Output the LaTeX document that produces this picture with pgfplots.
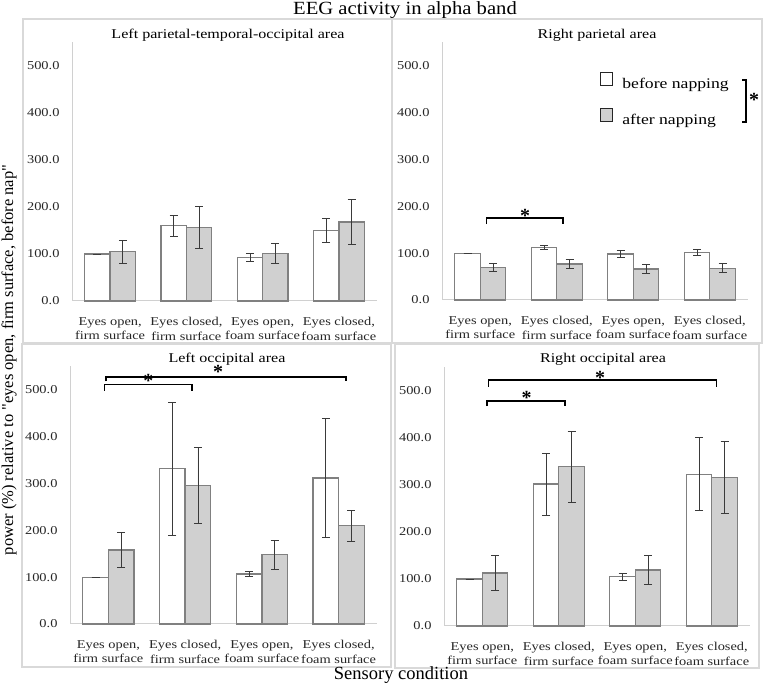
\documentclass[border=0pt]{standalone}
\usepackage{fontspec}
\setmainfont{Liberation Serif}
\newfontfamily\pf[FakeStretch=1.2]{Liberation Serif}
\newfontfamily\tf[FakeStretch=1.11]{Liberation Serif}
\newfontfamily\yf{Liberation Serif}
\usepackage{pgfplots}
\usepackage{pgfplotstable}
\pgfplotsset{compat=1.18}
\definecolor{edgec}{HTML}{808080}
\definecolor{afterc}{HTML}{D0D0D0}
\definecolor{errc}{HTML}{3A3A3A}
\definecolor{axc}{HTML}{D0D0D0}
\definecolor{boxc}{HTML}{D9D9D9}

% Left parietal-temporal-occipital area
\pgfplotstableread{
x b be a ae
0 100 0 105 24
1 160 23 157 45
2 93 8 101 22
3 150 26 168 48
}\lpto
% Right parietal area
\pgfplotstableread{
x b be a ae
0 100 0 70 9
1 112 5 77 10
2 98 7 66 9
3 102 6 68 10
}\rpar
% Left occipital area
\pgfplotstableread{
x b be a ae
0 100 0 158 37
1 332 142 296 81
2 107 5 148 31
3 312 127 210 33
}\locc
% Right occipital area
\pgfplotstableread{
x b be a ae
0 100 0 113 38
1 302 66 339 75
2 105 7 119 31
3 323 78 316 76
}\rocc

\tikzset{
  sig/.style={draw=black, line width=1.5pt},
  star/.style={font=\fontsize{20}{20}\selectfont\bfseries, inner sep=0pt, anchor=base, yshift=-9.5pt},
}
\pgfplotsset{
  panel/.style={
    scale only axis, anchor=south west,
    xmin=-0.5, xmax=3.5, ymin=0, ymax=550,
    axis x line=bottom, axis y line=left,
    axis line style={draw=axc, line width=1pt, -},
    xtick={0,1,2,3}, ytick={0,100,...,500},
    xticklabels={{Eyes open,\\firm surface},{Eyes closed,\\firm surface},{Eyes open,\\foam surface},{Eyes closed,\\foam surface}},
    major tick length=0pt,
    tick label style={font=\pf\fontsize{12}{14.5}\selectfont, text=black!85},
    xticklabel style={align=center, yshift=-13pt},
    yticklabel style={xshift=-9pt},
    yticklabel={\pgfmathprintnumber[fixed,fixed zerofill,precision=1,assume math mode=true]{\tick}},
    clip=false,
  },
  barbase/.style={ybar, bar width=0.3333, bar shift=0pt, draw=edgec, line width=1.3pt,
    error bars/y dir=both, error bars/y explicit,
    error bars/error bar style={draw=errc, line width=0.8pt},
    error bars/error mark options={rotate=90, draw=errc, line width=0.8pt, mark size=4pt}},
  beforebar/.style={barbase, fill=white},
  afterbar/.style={barbase, fill=afterc},
}

\begin{document}
\begin{tikzpicture}
\useasboundingbox (0pt,0pt) rectangle (763pt,684pt);
% panel frames
\draw[boxc, line width=1.5pt] (23pt,341pt) rectangle (392pt,665pt);
\draw[boxc, line width=1.5pt] (392pt,341pt) rectangle (762pt,665pt);
\draw[boxc, line width=1.5pt] (22pt,17pt) rectangle (391pt,340pt);
\draw[boxc, line width=1.5pt] (395pt,16pt) rectangle (759pt,340pt);

% top-left
\begin{axis}[panel, at={(72pt,383pt)}, width=305pt, height=258.5pt]
\addplot[beforebar] table[x expr=\thisrow{x}-0.16667,y=b,y error=be]{\lpto};
\addplot[afterbar] table[x expr=\thisrow{x}+0.16667,y=a,y error=ae]{\lpto};
\end{axis}

% top-right
\begin{axis}[panel, at={(442pt,384pt)}, width=306pt, height=257.5pt,
  legend style={at={(axis description cs:0.516,0.885)}, anchor=north west,
    draw=none, fill=none, inner sep=0pt, outer sep=0pt,
    nodes={inner sep=0pt, font=\pf\fontsize{14.7}{16}\selectfont},
    column sep=9pt, row sep=18.3pt},
  legend cell align=left]
\addlegendimage{legend image code/.code={\draw[draw=black!85, fill=white, line width=1pt] (0pt,-1pt) rectangle (12.5pt,11.5pt);}}
\addlegendentry{before napping}
\addlegendimage{legend image code/.code={\draw[draw=black!85, fill=afterc, line width=1pt] (0pt,-1pt) rectangle (12.5pt,11.5pt);}}
\addlegendentry{after napping}
\addplot[beforebar, forget plot] table[x expr=\thisrow{x}-0.16667,y=b,y error=be]{\rpar};
\addplot[afterbar, forget plot] table[x expr=\thisrow{x}+0.16667,y=a,y error=ae]{\rpar};
\draw[sig] (axis cs:0.08,162) -- (axis cs:0.08,175) -- (axis cs:1.08,175) -- (axis cs:1.08,162);
\node[star] at (axis cs:0.585,186) {*};
\end{axis}

% bottom-left
\begin{axis}[panel, at={(70pt,60pt)}, width=307pt, height=257.5pt]
\addplot[beforebar] table[x expr=\thisrow{x}-0.16667,y=b,y error=be]{\locc};
\addplot[afterbar] table[x expr=\thisrow{x}+0.16667,y=a,y error=ae]{\locc};
\draw[sig] (axis cs:-0.05,498) -- (axis cs:-0.05,512) -- (axis cs:1.09,512) -- (axis cs:1.09,498);
\draw[sig] (axis cs:-0.03,518) -- (axis cs:-0.03,528) -- (axis cs:3.095,528) -- (axis cs:3.095,518);
\node[star] at (axis cs:0.52,525) {*};
\node[star] at (axis cs:1.43,544) {*};
\end{axis}

% bottom-right
\begin{axis}[panel, at={(444pt,58pt)}, width=306pt, height=258.5pt]
\addplot[beforebar] table[x expr=\thisrow{x}-0.16667,y=b,y error=be]{\rocc};
\addplot[afterbar] table[x expr=\thisrow{x}+0.16667,y=a,y error=ae]{\rocc};
\draw[sig] (axis cs:0.06,468) -- (axis cs:0.06,479) -- (axis cs:1.08,479) -- (axis cs:1.08,468);
\draw[sig] (axis cs:0.08,509) -- (axis cs:0.08,523) -- (axis cs:3.06,523) -- (axis cs:3.06,509);
\node[star] at (axis cs:0.58,491) {*};
\node[star] at (axis cs:1.54,535) {*};
\end{axis}

% legend bracket
\draw[sig, line width=1.3pt] (742pt,604pt) -- (746pt,604pt) -- (746pt,562pt) -- (742pt,562pt);
\node[star] at (754pt,587pt) {*};

% titles and labels
\node[anchor=base, font=\tf\fontsize{18.6}{20}\selectfont] at (405pt,669pt) {EEG activity in alpha band};
\node[anchor=base, font=\pf\fontsize{13.4}{15}\selectfont] at (228pt,645pt) {Left parietal-temporal-occipital area};
\node[anchor=base, font=\pf\fontsize{13.4}{15}\selectfont] at (597pt,645pt) {Right parietal area};
\node[anchor=base, font=\pf\fontsize{13.4}{15}\selectfont] at (227pt,321pt) {Left occipital area};
\node[anchor=base, font=\pf\fontsize{13.4}{15}\selectfont] at (603pt,321pt) {Right occipital area};
\node[anchor=base, font=\fontsize{18.5}{20}\selectfont] at (401pt,4pt) {Sensory condition};
\node[anchor=base, rotate=90, font=\yf\fontsize{16.5}{18}\selectfont] at (13pt,324pt) {power (\%) relative to "eyes open, firm surface, before nap"};
\end{tikzpicture}
\end{document}
